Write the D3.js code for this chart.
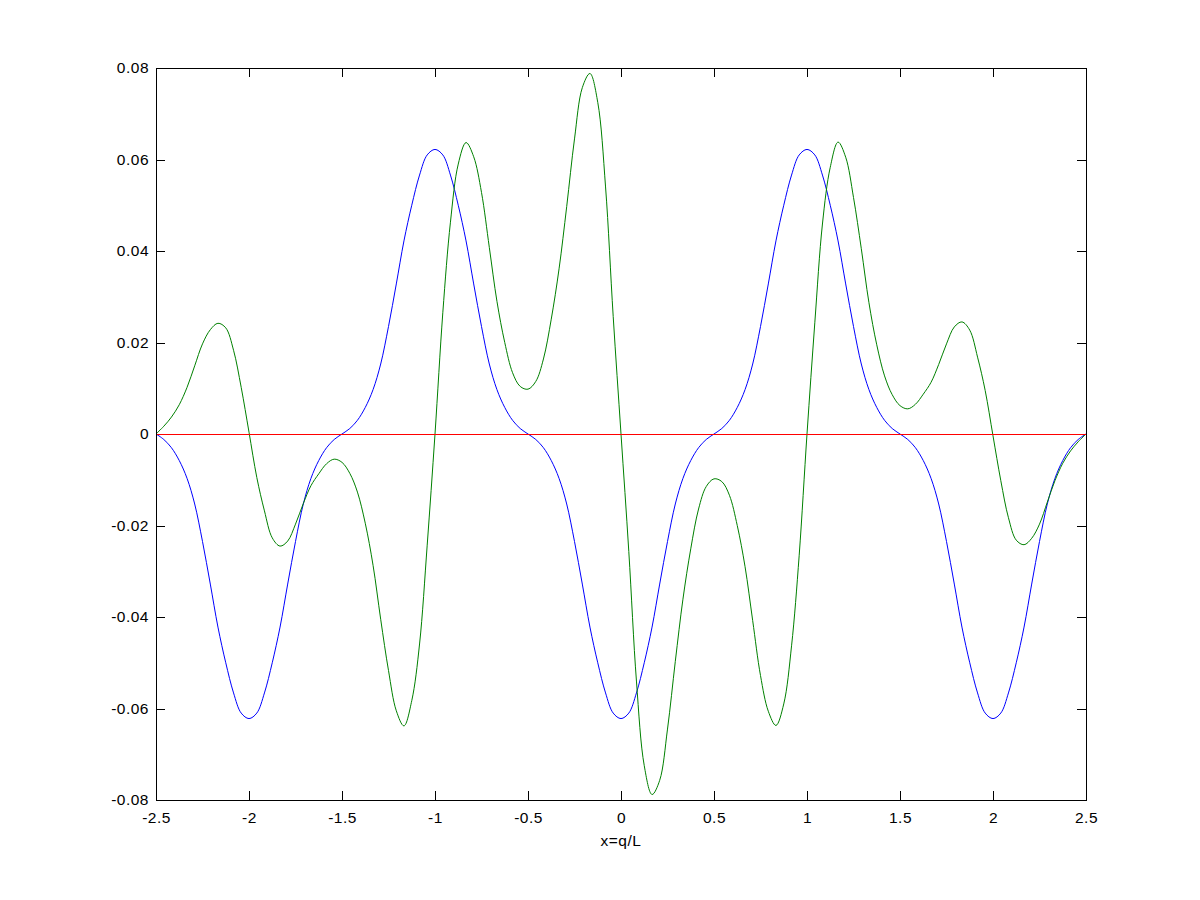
<!DOCTYPE html>
<html>
<head>
<meta charset="utf-8">
<script src="https://cdn.jsdelivr.net/npm/d3@7"></script>
<style>
  html, body { margin: 0; padding: 0; background: #fff; }
  svg text { font-family: "Liberation Sans", Arial, Helvetica, sans-serif; }
</style>
</head>
<body>
<svg id="chart" width="1200" height="900"></svg>
<script>
// ---- data ----
const xValues = [
 -2.5,-2.458,-2.417,-2.375,-2.333,-2.292,-2.25,-2.208,-2.167,-2.125,-2.083,-2.042,
 -2.0,-1.958,-1.917,-1.875,-1.833,-1.792,-1.75,-1.708,-1.667,-1.625,-1.583,-1.542,
 -1.5,-1.458,-1.417,-1.375,-1.333,-1.292,-1.25,-1.208,-1.167,-1.125,-1.083,-1.042,
 -1.0,-0.958,-0.917,-0.875,-0.833,-0.792,-0.75,-0.708,-0.667,-0.625,-0.583,-0.542,
 -0.5,-0.458,-0.417,-0.375,-0.333,-0.292,-0.25,-0.208,-0.167,-0.125,-0.083,-0.042,
 0.0,0.042,0.083,0.125,0.167,0.208,0.25,0.292,0.333,0.375,0.417,0.458,
 0.5,0.542,0.583,0.625,0.667,0.708,0.75,0.792,0.833,0.875,0.917,0.958,
 1.0,1.042,1.083,1.125,1.167,1.208,1.25,1.292,1.333,1.375,1.417,1.458,
 1.5,1.542,1.583,1.625,1.667,1.708,1.75,1.792,1.833,1.875,1.917,1.958,
 2.0,2.042,2.083,2.125,2.167,2.208,2.25,2.292,2.333,2.375,2.417,2.458,2.5
];
const blueValues = [
 0,-0.0012,-0.0030,-0.0058,-0.0097,-0.0153,-0.0235,-0.0328,-0.0422,-0.0500,-0.0566,-0.0610,
 -0.0622,-0.0610,-0.0566,-0.0500,-0.0422,-0.0328,-0.0235,-0.0153,-0.0097,-0.0058,-0.0030,-0.0012,
 0,0.0012,0.0030,0.0058,0.0097,0.0153,0.0235,0.0328,0.0422,0.0500,0.0566,0.0610,
 0.0622,0.0610,0.0566,0.0500,0.0422,0.0328,0.0235,0.0153,0.0097,0.0058,0.0030,0.0012,
 0,-0.0012,-0.0030,-0.0058,-0.0097,-0.0153,-0.0235,-0.0328,-0.0422,-0.0500,-0.0566,-0.0610,
 -0.0622,-0.0610,-0.0566,-0.0500,-0.0422,-0.0328,-0.0235,-0.0153,-0.0097,-0.0058,-0.0030,-0.0012,
 0,0.0012,0.0030,0.0058,0.0097,0.0153,0.0235,0.0328,0.0422,0.0500,0.0566,0.0610,
 0.0622,0.0610,0.0566,0.0500,0.0422,0.0328,0.0235,0.0153,0.0097,0.0058,0.0030,0.0012,
 0,-0.0012,-0.0030,-0.0058,-0.0097,-0.0153,-0.0235,-0.0328,-0.0422,-0.0500,-0.0566,-0.0610,
 -0.0622,-0.0610,-0.0566,-0.0500,-0.0422,-0.0328,-0.0235,-0.0153,-0.0097,-0.0058,-0.0030,-0.0012,0
];
const greenValues = [
 0,0.0017,0.0037,0.0064,0.0102,0.0149,0.0197,0.0228,0.0242,0.0232,0.0183,0.0102,
 0.0004,-0.0095,-0.0168,-0.0227,-0.0245,-0.0234,-0.0197,-0.0152,-0.0113,-0.0087,-0.0065,-0.0055,
 -0.0062,-0.0086,-0.0127,-0.0195,-0.0287,-0.0405,-0.0517,-0.0605,-0.0638,-0.0583,-0.0459,-0.0243,
 0,0.0265,0.0463,0.0590,0.0637,0.0606,0.0528,0.0408,0.0290,0.0200,0.0134,0.0104,
 0.0098,0.0115,0.0164,0.0251,0.0361,0.0497,0.0645,0.0757,0.0788,0.0725,0.0540,0.0257,
 0,-0.0257,-0.0540,-0.0725,-0.0788,-0.0757,-0.0645,-0.0497,-0.0361,-0.0251,-0.0164,-0.0115,
 -0.0098,-0.0104,-0.0134,-0.0200,-0.0290,-0.0408,-0.0528,-0.0606,-0.0637,-0.0590,-0.0463,-0.0265,
 0,0.0243,0.0459,0.0583,0.0638,0.0605,0.0517,0.0405,0.0287,0.0195,0.0127,0.0086,
 0.0062,0.0055,0.0065,0.0087,0.0113,0.0152,0.0197,0.0234,0.0245,0.0227,0.0168,0.0095,
 -0.0004,-0.0102,-0.0183,-0.0232,-0.0242,-0.0228,-0.0197,-0.0149,-0.0102,-0.0064,-0.0037,-0.0017,0
];
const redX = [-2.5, 2.5];
const redValues = [0, 0];

const xTicks = [-2.5,-2,-1.5,-1,-0.5,0,0.5,1,1.5,2,2.5];
const xTickLabels = ["-2.5","-2","-1.5","-1","-0.5","0","0.5","1","1.5","2","2.5"];
const yTicks = [-0.08,-0.06,-0.04,-0.02,0,0.02,0.04,0.06,0.08];
const yTickLabels = ["-0.08","-0.06","-0.04","-0.02","0","0.02","0.04","0.06","0.08"];
const xLabel = "x=q/L";

// ---- drawing ----
(function () {
const svg = d3.select("#chart");
const mLeft = 156, mRight = 1086, mTop = 68, mBottom = 800;
const x = d3.scaleLinear().domain([-2.5, 2.5]).range([mLeft, mRight]);
const y = d3.scaleLinear().domain([-0.08, 0.08]).range([mBottom, mTop]);

const fontSize = 15.5;
function styleAxis(g) {
  g.select(".domain").remove();
  g.selectAll(".tick line").attr("stroke", "#000").attr("stroke-width", 1).attr("shape-rendering", "crispEdges");
  g.selectAll(".tick text").attr("fill", "#000").attr("font-size", fontSize)
    .attr("font-family", "'Liberation Sans', Arial, sans-serif").attr("letter-spacing", "0.5px");
}

svg.append("g").attr("transform", `translate(0,${mBottom})`)
  .call(d3.axisBottom(x).tickValues(xTicks).tickFormat((d,i)=>xTickLabels[i]).tickSizeInner(-9).tickSizeOuter(0).tickPadding(12))
  .call(styleAxis);
svg.append("g").attr("transform", `translate(0,${mTop})`)
  .call(d3.axisTop(x).tickValues(xTicks).tickFormat("").tickSizeInner(-9).tickSizeOuter(0))
  .call(styleAxis);
svg.append("g").attr("transform", `translate(${mLeft},0)`)
  .call(d3.axisLeft(y).tickValues(yTicks).tickFormat((d,i)=>yTickLabels[i]).tickSizeInner(-9).tickSizeOuter(0).tickPadding(7))
  .call(styleAxis);
svg.append("g").attr("transform", `translate(${mRight},0)`)
  .call(d3.axisRight(y).tickValues(yTicks).tickFormat("").tickSizeInner(-9).tickSizeOuter(0))
  .call(styleAxis);

const line = d3.line().x(d => x(d[0])).y(d => y(d[1])).curve(d3.curveCatmullRom.alpha(0.5));

svg.append("path").datum(xValues.map((v,i)=>[v, blueValues[i]]))
  .attr("d", line).attr("fill", "none").attr("stroke", "#0000ff").attr("stroke-width", 1);
svg.append("path").datum(xValues.map((v,i)=>[v, greenValues[i]]))
  .attr("d", line).attr("fill", "none").attr("stroke", "#008000").attr("stroke-width", 1);
svg.append("path").datum(redX.map((v,i)=>[v, redValues[i]]))
  .attr("d", d3.line().x(d=>x(d[0])).y(d=>y(d[1]))).attr("fill", "none").attr("stroke", "#ff0000").attr("stroke-width", 1)
  .attr("shape-rendering", "crispEdges");

svg.append("rect").attr("x", mLeft).attr("y", mTop).attr("width", mRight-mLeft).attr("height", mBottom-mTop)
  .attr("fill", "none").attr("stroke", "#000").attr("stroke-width", 1).attr("shape-rendering", "crispEdges");

svg.append("text").attr("x", (mLeft+mRight)/2).attr("y", 846).attr("text-anchor", "middle")
  .attr("font-size", fontSize).attr("letter-spacing", "0.5px").attr("fill", "#000").text(xLabel);
})();
</script>
</body>
</html>
